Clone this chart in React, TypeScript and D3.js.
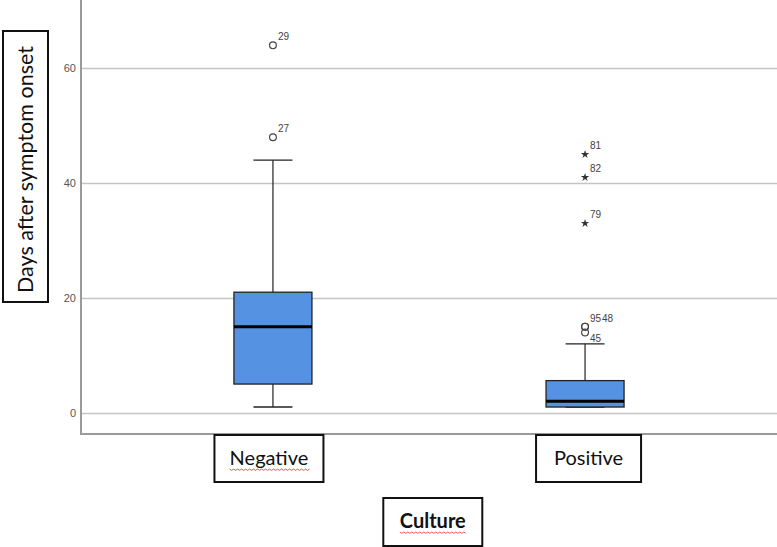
import * as d3 from "d3";
import { useEffect, useRef } from "react";

// Box plot values (days after symptom onset)
const categories = ["Negative", "Positive"];
const whiskerLow = [1, 1];
const q1 = [5, 1];
const median = [15, 2];
const q3 = [21, 5.6];
const whiskerHigh = [44, 12];

// outliers: "o" = mild, "*" = extreme
const outlierGroup = ["Negative", "Negative", "Positive", "Positive", "Positive", "Positive", "Positive", "Positive"];
const outlierValue = [64, 48, 15, 15, 14, 45, 41, 33];
const outlierCase = ["29", "27", "95", "48", "45", "81", "82", "79"];
const outlierKind = ["o", "o", "o", "o", "o", "*", "*", "*"];

const yTicks = [0, 20, 40, 60];

const W = 777;
const H = 547;

const App = () => {
  const ref = useRef<SVGSVGElement>(null);

  useEffect(() => {
    const svg = d3.select(ref.current);
    svg.selectAll("*").remove();

    const left = 81,
      bottom = 434,
      font = "Lato, 'Open Sans', sans-serif";

    const y = d3.scaleLinear().domain([-3.7, 71.9]).range([bottom, 0]);
    const x = d3.scalePoint().domain(categories).range([left, W]).padding(0.615);

    // gridlines
    svg
      .append("g")
      .selectAll("line")
      .data(yTicks)
      .join("line")
      .attr("x1", left)
      .attr("x2", W)
      .attr("y1", (d) => Math.round(y(d)) + 0.5)
      .attr("y2", (d) => Math.round(y(d)) + 0.5)
      .attr("stroke", "#c4c4c4")
      .attr("stroke-width", 1.3);

    // y axis labels
    const yAxis = svg
      .append("g")
      .attr("transform", `translate(${left},0)`)
      .call(d3.axisLeft(y).tickValues(yTicks).tickSize(0).tickPadding(5));
    yAxis.select(".domain").remove();
    yAxis
      .selectAll("text")
      .attr("font-family", "Arial, 'Liberation Sans', sans-serif")
      .attr("font-size", 11)
      .attr("fill", "#555");

    // axis frame
    svg
      .append("path")
      .attr("d", `M${left},0V${bottom}H${W}`)
      .attr("fill", "none")
      .attr("stroke", "#9a9a9a")
      .attr("stroke-width", 2);

    const boxW = 78;
    const capW = 39;
    const idx = d3.range(categories.length);

    const boxes = svg
      .append("g")
      .selectAll("g")
      .data(idx)
      .join("g")
      .attr("transform", (i) => `translate(${x(categories[i])},0)`);

    // whiskers
    boxes
      .append("line")
      .attr("y1", (i) => y(whiskerHigh[i]))
      .attr("y2", (i) => y(whiskerLow[i]))
      .attr("stroke", "#222")
      .attr("stroke-width", 1.2);
    boxes
      .selectAll(".cap")
      .data((i) => [whiskerLow[i], whiskerHigh[i]])
      .join("line")
      .attr("class", "cap")
      .attr("x1", -capW / 2)
      .attr("x2", capW / 2)
      .attr("y1", (d) => y(d))
      .attr("y2", (d) => y(d))
      .attr("stroke", "#222")
      .attr("stroke-width", 1.4);

    // box
    boxes
      .append("rect")
      .attr("x", -boxW / 2)
      .attr("width", boxW)
      .attr("y", (i) => y(q3[i]))
      .attr("height", (i) => y(q1[i]) - y(q3[i]))
      .attr("fill", "#5592e2")
      .attr("stroke", "#222")
      .attr("stroke-width", 1.3);

    // median
    boxes
      .append("line")
      .attr("x1", -boxW / 2)
      .attr("x2", boxW / 2)
      .attr("y1", (i) => y(median[i]))
      .attr("y2", (i) => y(median[i]))
      .attr("stroke", "#000")
      .attr("stroke-width", 3);

    // outliers
    const outIdx = d3.range(outlierValue.length);
    const star = d3.symbol().type(d3.symbolStar).size(22);
    const pts = svg.append("g");
    pts
      .selectAll("circle")
      .data(outIdx.filter((i) => outlierKind[i] === "o"))
      .join("circle")
      .attr("cx", (i) => x(outlierGroup[i]) as number)
      .attr("cy", (i) => y(outlierValue[i]))
      .attr("r", 3.4)
      .attr("fill", "none")
      .attr("stroke", "#444")
      .attr("stroke-width", 1.2);
    pts
      .selectAll("path")
      .data(outIdx.filter((i) => outlierKind[i] === "*"))
      .join("path")
      .attr("d", star)
      .attr("transform", (i) => `translate(${x(outlierGroup[i])},${y(outlierValue[i])})`)
      .attr("fill", "#333");

    // case labels (offsets to avoid overlaps like the original)
    const labelDx = (i: number) => (outlierCase[i] === "48" ? 17 : 5);
    const labelDy = (i: number) => (outlierCase[i] === "45" ? 10 : -5);
    pts
      .selectAll("text")
      .data(outIdx)
      .join("text")
      .attr("x", (i) => (x(outlierGroup[i]) as number) + labelDx(i))
      .attr("y", (i) => y(outlierValue[i]) + labelDy(i))
      .attr("font-family", "Arial, 'Liberation Sans', sans-serif")
      .attr("font-size", 10)
      .attr("fill", "#444")
      .text((i) => outlierCase[i]);

    // boxed text labels
    const wavy = (x0: number, x1: number, yy: number) => {
      let d = `M${x0},${yy}`;
      for (let xx = x0, k = 0; xx < x1; xx += 2, k++) d += `L${xx + 2},${yy + (k % 2 ? 0 : 1.4)}`;
      return d;
    };
    const boxLabel = (
      cx: number,
      y0: number,
      w: number,
      h: number,
      text: string,
      bold: boolean,
      underline: boolean
    ) => {
      const g = svg.append("g");
      g.append("rect")
        .attr("x", cx - w / 2)
        .attr("y", y0)
        .attr("width", w)
        .attr("height", h)
        .attr("fill", "#fff")
        .attr("stroke", "#111")
        .attr("stroke-width", 2);
      const t = g
        .append("text")
        .attr("x", cx)
        .attr("y", y0 + 29.5)
        .attr("text-anchor", "middle")
        .attr("font-family", font)
        .attr("font-size", 20)
        .attr("font-weight", bold ? 700 : 400)
        .attr("fill", "#111")
        .text(text);
      if (underline) {
        const tw = (t.node() as SVGTextElement).getComputedTextLength();
        g.append("path")
          .attr("d", wavy(cx - tw / 2, cx + tw / 2, y0 + 34))
          .attr("fill", "none")
          .attr("stroke", "#e03030")
          .attr("stroke-width", 0.8);
      }
    };
    boxLabel(x("Negative") as number - 4, 435, 109, 47, "Negative", false, true);
    boxLabel(x("Positive") as number + 3.5, 435, 105, 47, "Positive", false, false);
    boxLabel((left + W) / 2 + 3.8, 498, 99, 48, "Culture", true, true);

    // y title box
    svg
      .append("rect")
      .attr("x", 3)
      .attr("y", 31)
      .attr("width", 45)
      .attr("height", 271)
      .attr("fill", "#fff")
      .attr("stroke", "#111")
      .attr("stroke-width", 2);
    svg
      .append("text")
      .attr("transform", `translate(33,${(31 + 302) / 2 + 3}) rotate(-90)`)
      .attr("text-anchor", "middle")
      .attr("font-family", font)
      .attr("font-size", 21.5)
      .attr("fill", "#111")
      .text("Days after symptom onset");
  }, []);

  return (
    <svg
      ref={ref}
      width={W}
      height={H}
      style={{ position: "absolute", left: 0, top: 0, background: "#fff" }}
    />
  );
};

export default App;
